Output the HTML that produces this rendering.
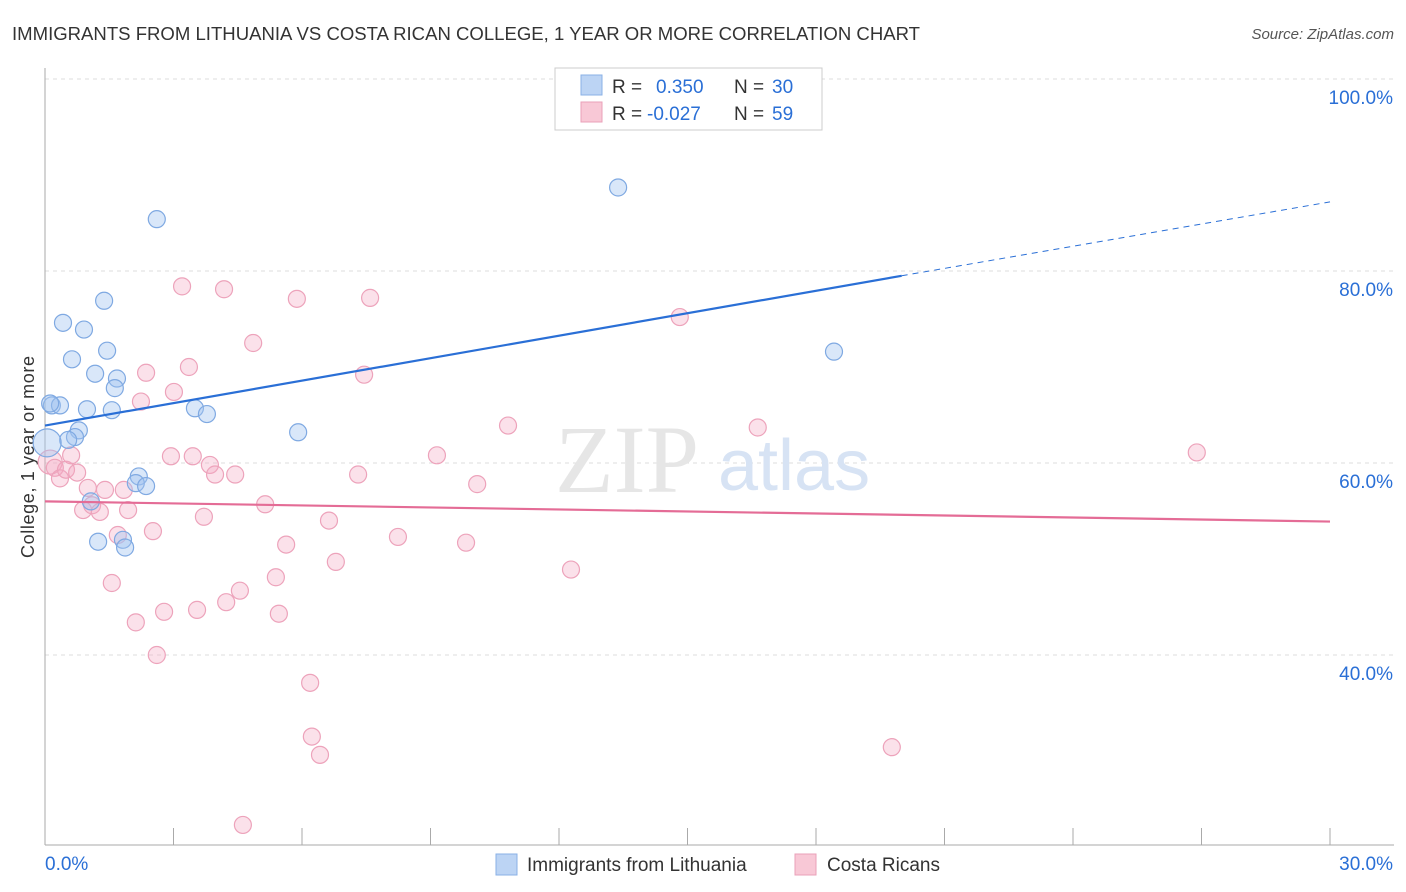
<!DOCTYPE html>
<html><head><meta charset="utf-8">
<style>
body{margin:0;background:#fff;font-family:"Liberation Sans",sans-serif;}
svg{display:block}
</style></head>
<body>
<svg id="chart" width="1406" height="892">
<text x="12" y="40" font-size="18" fill="#333" textLength="908" lengthAdjust="spacingAndGlyphs">IMMIGRANTS FROM LITHUANIA VS COSTA RICAN COLLEGE, 1 YEAR OR MORE CORRELATION CHART</text>
<text x="1394" y="39" font-size="15" fill="#555" text-anchor="end" font-style="italic">Source: ZipAtlas.com</text>
<text x="34" y="457" font-size="18" fill="#333" text-anchor="middle" textLength="202" transform="rotate(-90 34 457)">College, 1 year or more</text>
<g id="grid"></g>
<text x="555" y="492" font-size="96" fill="#e6e6e6" font-family="Liberation Serif,serif">ZIP</text>
<text x="718" y="490" font-size="72" fill="#d7e3f4">atlas</text>
<g id="marks"></g>
<g>
<rect x="555" y="68" width="267" height="62" fill="#fff" stroke="#ccc"/>
<rect x="581" y="75" width="21" height="20" fill="#bcd4f4" stroke="#8ab0e6"/>
<rect x="581" y="102" width="21" height="20" fill="#f8c8d6" stroke="#eaa0b8"/>
<text x="612" y="93" font-size="19" fill="#333">R =</text>
<text x="656" y="93" font-size="19" fill="#2a6fd6">0.350</text>
<text x="734" y="93" font-size="19" fill="#333">N =</text>
<text x="772" y="93" font-size="19" fill="#2a6fd6">30</text>
<text x="612" y="120" font-size="19" fill="#333">R =</text>
<text x="647" y="120" font-size="19" fill="#2a6fd6">-0.027</text>
<text x="734" y="120" font-size="19" fill="#333">N =</text>
<text x="772" y="120" font-size="19" fill="#2a6fd6">59</text>
</g>
<g>
<rect x="496" y="854" width="21" height="21" fill="#bcd4f4" stroke="#8ab0e6"/>
<text x="527" y="871" font-size="19" fill="#333">Immigrants from Lithuania</text>
<rect x="795" y="854" width="21" height="21" fill="#f8c8d6" stroke="#eaa0b8"/>
<text x="827" y="871" font-size="19" fill="#333">Costa Ricans</text>
</g>
</svg>
<script>
const xTicks=[0,3,6,9,12,15,18,21,24,27,30];
const yTicks=[100,80,60,40];
const blueX=[0.16,0.35,0.42,0.63,0.91,1.38,1.45,1.17,1.68,1.63,0.98,1.56,0.79,0.70,0.54,1.07,1.24,1.82,1.87,2.19,2.12,2.36,2.61,3.50,3.78,5.91,13.38,18.42,0.05,0.12];
const blueY=[66.0,66.0,74.6,70.8,73.9,76.9,71.7,69.3,68.8,67.8,65.6,65.5,63.4,62.7,62.4,56.0,51.8,52.0,51.2,58.6,57.9,57.6,85.4,65.7,65.1,63.2,88.7,71.6,62.1,66.2];
const pinkX=[0.12,0.23,0.35,0.49,0.61,0.75,0.89,1.00,1.10,1.28,1.40,1.56,1.70,1.84,1.94,2.12,2.24,2.36,2.52,2.61,2.78,2.94,3.01,3.20,3.36,3.45,3.55,3.71,3.85,3.97,4.18,4.23,4.44,4.55,4.86,5.14,5.39,5.46,5.63,5.88,6.19,6.23,6.42,6.63,6.79,7.31,7.45,7.59,8.24,9.15,9.83,10.09,10.81,12.28,14.82,16.64,19.77,26.89,4.62];
const pinkY=[60.1,59.5,58.4,59.3,60.8,59.0,55.1,57.4,55.6,54.9,57.2,47.5,52.5,57.2,55.1,43.4,66.4,69.4,52.9,40.0,44.5,60.7,67.4,78.4,70.0,60.7,44.7,54.4,59.8,58.8,78.1,45.5,58.8,46.7,72.5,55.7,48.1,44.3,51.5,77.1,37.1,31.5,29.6,54.0,49.7,58.8,69.2,77.2,52.3,60.8,51.7,57.8,63.9,48.9,75.2,63.7,30.4,61.1,22.3];
const X0=45,X1=1330,Y100=79,PPY=9.6;
const xs=v=>X0+(v/30)*(X1-X0);
const ys=v=>Y100+(100-v)*PPY;
const NS='http://www.w3.org/2000/svg';
function mk(t,a,p){const e=document.createElementNS(NS,t);for(const k in a)e.setAttribute(k,a[k]);p.appendChild(e);return e;}
const grid=document.getElementById('grid'),marks=document.getElementById('marks');
yTicks.forEach(v=>{const l=mk('line',{x1:45,x2:1394,y1:ys(v),y2:ys(v),stroke:'#ddd','stroke-dasharray':'4,4'},grid);


const t=mk('text',{x:1393,y:ys(v)+25,'font-size':19,fill:'#2a6fd6','text-anchor':'end'},grid);t.textContent=v.toFixed(1)+'%';

});
mk('line',{x1:45,x2:45,y1:68,y2:845,stroke:'#aaa'},grid);
mk('line',{x1:45,x2:1394,y1:845,y2:845,stroke:'#aaa'},grid);
xTicks.forEach(v=>{const l=mk('line',{x1:xs(v),x2:xs(v),y1:828,y2:845,stroke:'#aaa'},grid);

});
const t0=mk('text',{x:45,y:870,'font-size':19,fill:'#2a6fd6'},grid);t0.textContent=xTicks[0].toFixed(1)+'%';


const t1=mk('text',{x:1393,y:870,'font-size':19,fill:'#2a6fd6','text-anchor':'end'},grid);t1.textContent=xTicks[xTicks.length-1].toFixed(1)+'%';


pinkX.forEach((x,i)=>{const c=mk('circle',{cx:xs(x),cy:ys(pinkY[i]),r:i==0?12:8.5,fill:'rgba(244,170,195,0.35)',stroke:'#eda3bb','stroke-width':1.2},marks);

});
blueX.forEach((x,i)=>{const c=mk('circle',{cx:xs(x),cy:ys(blueY[i]),r:i==28?14:8.5,fill:'rgba(160,195,240,0.4)',stroke:'#7fa9e2','stroke-width':1.2},marks);

});
const bl=mk('line',{x1:xs(0),y1:ys(63.9),x2:xs(20),y2:ys(79.5),stroke:'#2a6fd6','stroke-width':2.2},marks);


const bd=mk('line',{x1:xs(20),y1:ys(79.5),x2:xs(30),y2:ys(87.2),stroke:'#2a6fd6','stroke-width':1,'stroke-dasharray':'6,5'},marks);


const pl=mk('line',{x1:xs(0),y1:ys(56.0),x2:xs(30),y2:ys(53.9),stroke:'#e46c96','stroke-width':2.2},marks);


</script>
</body></html>
